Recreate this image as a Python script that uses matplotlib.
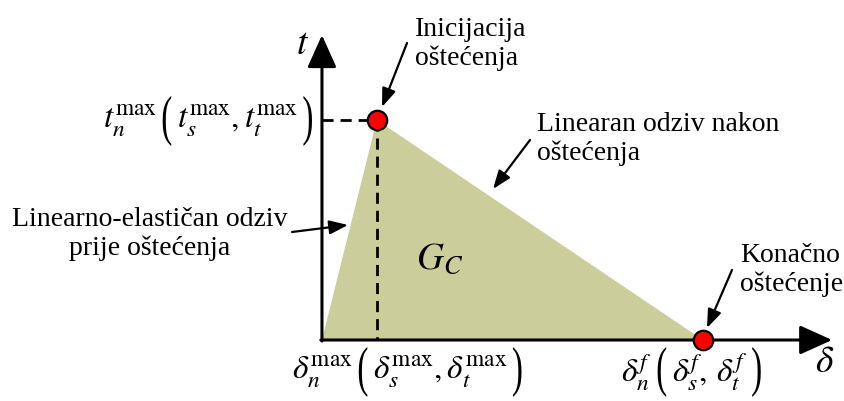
import matplotlib.pyplot as plt
from matplotlib.offsetbox import TextArea, HPacker, AnnotationBbox, DrawingArea
from matplotlib.textpath import TextPath
from matplotlib.patches import PathPatch
from matplotlib.transforms import Affine2D
from matplotlib.font_manager import FontProperties

plt.rcParams['font.family'] = ['Liberation Serif', 'DejaVu Serif']
plt.rcParams['mathtext.fontset'] = 'stix'

# bilinear traction-separation law (normalised)
delta = [0.0, 0.144, 1.0]
traction = [0.0, 1.0, 0.0]
delta_axis_end = 1.339
t_axis_end = 1.386

fill_color = '#cbcd9b'
W, H = 845, 401


def fp(x, y):
    # pixel position -> figure fraction (used only for text placement)
    return (x / W, 1 - y / H)


fig = plt.figure(figsize=(8.45, 4.01), dpi=100)
ax = fig.add_axes([0, 0, 1, 1])
ax.set_xlim(-0.845, 1.3727)
ax.set_ylim(-0.2773, 1.5455)
ax.axis('off')


def tall_paren(ch, height=36, size=24):
    # stretched bracket glyph (sizes in points)
    tp = TextPath((0, 0), ch, size=size, prop=FontProperties(family='Liberation Serif'))
    ext = tp.get_extents()
    sy = height / ext.height
    path = Affine2D().translate(-ext.x0, -ext.y0).scale(1, sy).transform_path(tp)
    da = DrawingArea(ext.width, height, 0, 0)
    da.add_artist(PathPatch(path, fc='k', lw=0))
    return da


def paren_label(pos, head, inner, align):
    parts = [TextArea(head, textprops=dict(fontsize=24)),
             tall_paren('('),
             TextArea(inner, textprops=dict(fontsize=24)),
             tall_paren(')')]
    box = HPacker(children=parts, align='center', pad=0, sep=4)
    ab = AnnotationBbox(box, pos, xycoords='figure fraction', box_alignment=align,
                        frameon=False, pad=0)
    ax.add_artist(ab)


# G_C area
ax.fill(delta, traction, color=fill_color, lw=0, zorder=1)

# dashed guides to the peak
ax.plot([0, delta[1]], [traction[1], traction[1]], color='k', lw=2, ls=(0, (4, 2.5)), zorder=2)
ax.plot([delta[1], delta[1]], [traction[1], 0], color='k', lw=2, ls=(0, (4, 2.5)), zorder=2)

# axes with arrows
ax.annotate('', xy=(delta_axis_end, 0), xytext=(-0.003, 0),
            arrowprops=dict(arrowstyle='-|>,head_length=1.0,head_width=0.45', lw=2.2, color='k',
                            shrinkA=0, shrinkB=0, mutation_scale=20), zorder=3)
ax.annotate('', xy=(0, t_axis_end), xytext=(0, -0.005),
            arrowprops=dict(arrowstyle='-|>,head_length=1.0,head_width=0.45', lw=2.2, color='k',
                            shrinkA=0, shrinkB=0, mutation_scale=20), zorder=3)

# initiation and final damage points
ax.plot([delta[1], delta[2]], [traction[1], traction[2]], 'o', ms=14, mfc='red', mec='k',
        mew=1.6, ls='none', zorder=5, clip_on=False)

# axis symbols
fig.text(*fp(303, 45), '$t$', fontsize=27, ha='center', va='center')
fig.text(*fp(825, 363), r'$\delta$', fontsize=27, ha='center', va='center')

# tick-like labels
paren_label(fp(312, 121), r'$t_n^{\max}$', r'$t_s^{\max},t_t^{\max}$', (1, 0.5))
paren_label(fp(407, 372), r'$\delta_n^{\max}$', r'$\delta_s^{\max},\delta_t^{\max}$', (0.5, 0.5))
paren_label(fp(691, 372), r'$\delta_n^{f}$', r'$\delta_s^{f},\,\delta_t^{f}$', (0.5, 0.5))

fig.text(*fp(440, 260), '$G_C$', fontsize=27, ha='center', va='center')

arrow = dict(arrowstyle='-|>,head_length=0.8,head_width=0.3', lw=1.6, color='k',
             shrinkA=0, shrinkB=0, mutation_scale=14)

# annotations
fig.text(*fp(415, 44), 'Inicijacija\noštećenja', fontsize=20, ha='left', va='center',
         linespacing=1.15)
ax.annotate('', xy=fp(382, 107), xytext=fp(407, 43), xycoords='figure fraction',
            textcoords='figure fraction', arrowprops=arrow)

fig.text(*fp(537, 139), 'Linearan odziv nakon\noštećenja', fontsize=20, ha='left', va='center',
         linespacing=1.15)
ax.annotate('', xy=fp(493, 189), xytext=fp(530, 140), xycoords='figure fraction',
            textcoords='figure fraction', arrowprops=arrow)

fig.text(*fp(150, 234), 'Linearno-elastičan odziv\nprije oštećenja', fontsize=20, ha='center',
         va='center', linespacing=1.15)
ax.annotate('', xy=fp(348, 225), xytext=fp(292, 232), xycoords='figure fraction',
            textcoords='figure fraction', arrowprops=arrow)

fig.text(*fp(740, 270), 'Konačno\noštećenje', fontsize=20, ha='left', va='center',
         linespacing=1.15)
ax.annotate('', xy=fp(707, 328), xytext=fp(732, 270), xycoords='figure fraction',
            textcoords='figure fraction', arrowprops=arrow)

fig.savefig('out.png', dpi=100)
